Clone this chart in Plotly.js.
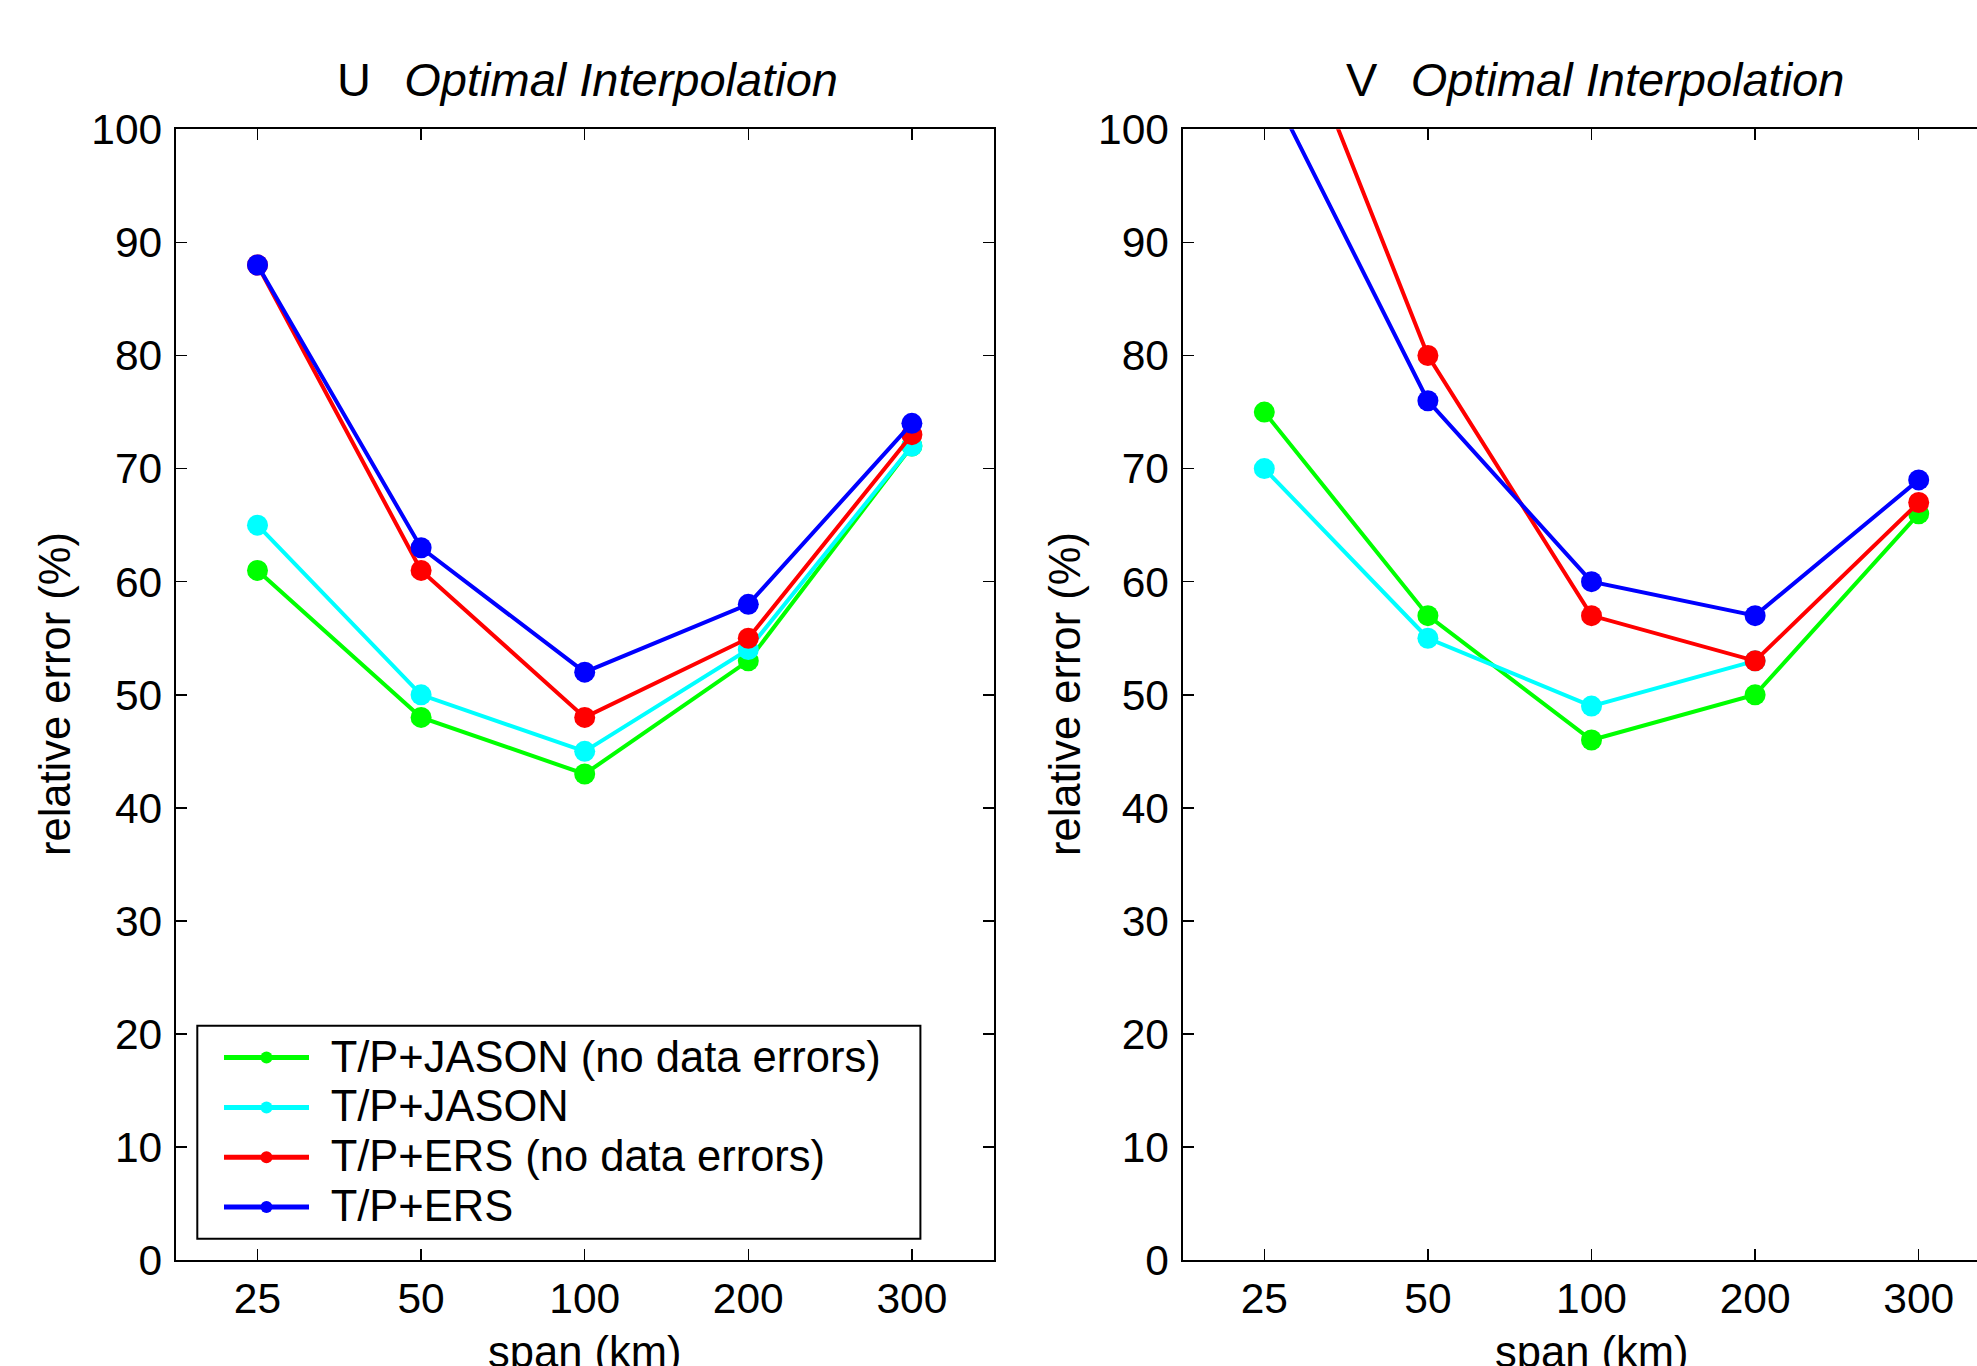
<!DOCTYPE html>
<html>
<head>
<meta charset="utf-8">
<script src="https://cdn.plot.ly/plotly-3.0.1.min.js"></script>
<style>
html, body { margin: 0; padding: 0; overflow: hidden; background: #fff; }
#chart { width: 2100px; height: 1366px; }
</style>
</head>
<body>
<div id="chart"></div>
<script>
// ---- data ----
var spans = ['25', '50', '100', '200', '300'];
var seriesNames = ['T/P+JASON (no data errors)', 'T/P+JASON', 'T/P+ERS (no data errors)', 'T/P+ERS'];
var seriesColors = ['#00ff00', '#00ffff', '#ff0000', '#0000ff'];

var uJasonNoErr = [61, 48, 43, 53, 72];
var uJason      = [65, 50, 45, 54, 72];
var uErsNoErr   = [88, 61, 48, 55, 73];
var uErs        = [88, 63, 52, 58, 74];

var vJasonNoErr = [75, 57, 46, 50, 66];
var vJason      = [70, 55, 49, 53, null];
var vErsNoErr   = [116.5, 80, 57, 53, 67];
var vErs        = [104.8, 76, 60, 57, 69];

var panelTitles = ['U', 'V'];
var subTitle = 'Optimal Interpolation';
var xTitle = 'span (km)';
var yTitle = 'relative error (%)';

// ---- geometry (px) ----
var W = 2100, H = 1366;
var FONT = 'Liberation Sans, Arial, Helvetica, sans-serif';
var uSeries = [uJasonNoErr, uJason, uErsNoErr, uErs];
var vSeries = [vJasonNoErr, vJason, vErsNoErr, vErs];

var traces = [];
function addPanel(series, xa, ya, showLeg) {
  for (var i = 0; i < series.length; i++) {
    traces.push({
      type: 'scatter', mode: 'lines+markers',
      x: spans, y: series[i], xaxis: xa, yaxis: ya,
      name: '<span style="font-size:30px">&nbsp;&nbsp;</span><span style="font-size:43.5px">' + seriesNames[i] + '</span>',
      showlegend: showLeg,
      line: { color: seriesColors[i], width: 4 },
      marker: { color: seriesColors[i], size: 21 },
      connectgaps: false
    });
  }
}
addPanel(uSeries, 'x', 'y', true);
addPanel(vSeries, 'x2', 'y2', false);

var yDom = [1 - 1260.3 / H, 1 - 129.3 / H];
function xAxis(dom) {
  return {
    domain: dom, type: 'category', range: [-0.5, 4.5],
    showline: true, linewidth: 2, linecolor: '#000', mirror: 'ticks',
    ticks: 'inside', ticklen: 11, tickwidth: 1.5, tickcolor: '#000',
    tickfont: { family: FONT, size: 42.5, color: '#000' },
    showgrid: false, zeroline: false, fixedrange: true
  };
}
function yAxis(dom, anchor) {
  return {
    domain: dom, anchor: anchor, range: [0, 100], dtick: 10, tick0: 0,
    showline: true, linewidth: 2, linecolor: '#000', mirror: 'ticks',
    ticks: 'inside', ticklen: 11, tickwidth: 1.5, tickcolor: '#000',
    tickfont: { family: FONT, size: 42.5, color: '#000' },
    ticklabelstandoff: 3,
    showgrid: false, zeroline: false, fixedrange: true
  };
}

var x1 = [175.7 / W, 993.7 / W];
var x2 = [1182.5 / W, 2000.5 / W];

var annotations = [];
[['x', x1], ['x2', x2]].forEach(function (p, k) {
  annotations.push({
    xref: p[0] + ' domain', yref: 'paper', x: 0.5, y: 1 - 79 / H,
    xanchor: 'center', yanchor: 'middle', xshift: 3,
    text: panelTitles[k] + '<span style="font-size:40px">&nbsp;&nbsp;&nbsp;</span><i>' + subTitle + '</i>',
    showarrow: false, font: { family: FONT, size: 47, color: '#000' }
  });
  annotations.push({
    xref: p[0] + ' domain', yref: 'paper', x: 0.5, y: 1 - 1352 / H,
    xanchor: 'center', yanchor: 'middle',
    text: xTitle, showarrow: false,
    font: { family: FONT, size: 43.5, color: '#000' }
  });
  annotations.push({
    xref: 'paper', yref: 'paper', x: (k === 0 ? 55 : 1065) / W, y: 1 - 694 / H,
    xanchor: 'center', yanchor: 'middle', textangle: -90,
    text: yTitle, showarrow: false,
    font: { family: FONT, size: 43.5, color: '#000' }
  });
});

// legend frame (decoration)
var shapes = [{
  type: 'rect', xref: 'paper', yref: 'paper', layer: 'above',
  x0: 197.3 / W, x1: 920.4 / W, y0: 1 - 1238.7 / H, y1: 1 - 1025.7 / H,
  line: { color: '#000', width: 2 }, fillcolor: '#fff'
}];

var layout = {
  width: W, height: H,
  margin: { l: 0, r: 0, t: 0, b: 0 },
  paper_bgcolor: '#fff', plot_bgcolor: '#fff',
  font: { family: FONT, color: '#000' },
  xaxis: xAxis(x1), yaxis: yAxis(yDom, 'x'),
  xaxis2: xAxis(x2), yaxis2: yAxis(yDom, 'x2'),
  showlegend: true,
  legend: {
    x: 219 / W, y: 1 - 1027.7 / H, xanchor: 'left', yanchor: 'top',
    bgcolor: 'rgba(0,0,0,0)', borderwidth: 0,
    font: { family: FONT, size: 36, color: '#000' },
    itemsizing: 'constant', itemwidth: 85, traceorder: 'normal'
  },
  shapes: shapes,
  annotations: annotations,
  hovermode: false
};

Plotly.newPlot('chart', traces, layout, { displayModeBar: false, staticPlot: true });
</script>
</body>
</html>
